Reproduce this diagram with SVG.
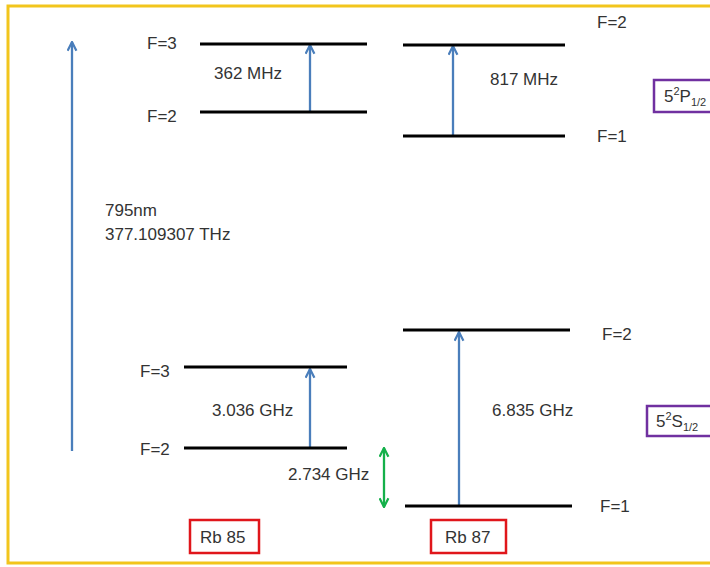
<svg xmlns="http://www.w3.org/2000/svg" width="710" height="567" viewBox="0 0 710 567">
<defs>
<marker id="ah" viewBox="0 0 10 10" refX="9" refY="5" markerWidth="11" markerHeight="11" markerUnits="userSpaceOnUse" orient="auto-start-reverse">
<path d="M1,1 L9,5 L1,9" fill="none" stroke="#4a7ebb" stroke-width="2"/>
</marker>
<marker id="gh" viewBox="0 0 10 10" refX="9" refY="5" markerWidth="11" markerHeight="11" markerUnits="userSpaceOnUse" orient="auto-start-reverse">
<path d="M1,1 L9,5 L1,9" fill="none" stroke="#14b04a" stroke-width="2"/>
</marker>
</defs>
<style>
text{font-family:"Liberation Sans",Arial,sans-serif;font-size:17px;fill:#333}
.lvl{stroke:#000;stroke-width:3}
.tr{stroke:#4a7ebb;stroke-width:2.3;fill:none;marker-end:url(#ah)}
.box{fill:#fff;stroke-width:2.5}
.s{font-size:11px}
</style>
<rect x="0" y="0" width="710" height="567" fill="#fff"/>
<rect x="8" y="6" width="720" height="557" fill="none" stroke="#f2c51c" stroke-width="3"/>

<g id="connectors">
<line class="tr" x1="72" y1="451" x2="72" y2="42"/>
<line class="tr" x1="310" y1="112" x2="310" y2="45"/>
<line class="tr" x1="453" y1="136" x2="453" y2="46"/>
<line class="tr" x1="310" y1="448" x2="310" y2="369"/>
<line class="tr" x1="459" y1="506" x2="459" y2="332"/>
<line x1="384" y1="448" x2="384" y2="507" stroke="#14b04a" stroke-width="2.3" marker-start="url(#gh)" marker-end="url(#gh)"/>
</g>

<g id="rb85-p-f3"><line class="lvl" x1="200" y1="44" x2="367" y2="44"/><text x="147" y="49">F=3</text></g>
<g id="rb85-p-f2"><line class="lvl" x1="200" y1="112" x2="367" y2="112"/><text x="147" y="122">F=2</text></g>
<g id="rb87-p-f2"><line class="lvl" x1="403" y1="45" x2="565" y2="45"/><text x="597" y="28">F=2</text></g>
<g id="rb87-p-f1"><line class="lvl" x1="403" y1="136" x2="565" y2="136"/><text x="597" y="142">F=1</text></g>
<g id="rb85-s-f3"><line class="lvl" x1="184" y1="367" x2="347" y2="367"/><text x="140" y="377">F=3</text></g>
<g id="rb85-s-f2"><line class="lvl" x1="184" y1="448" x2="347" y2="448"/><text x="140" y="455">F=2</text></g>
<g id="rb87-s-f2"><line class="lvl" x1="403" y1="330" x2="570" y2="330"/><text x="602" y="340">F=2</text></g>
<g id="rb87-s-f1"><line class="lvl" x1="405" y1="506" x2="572" y2="506"/><text x="600" y="512">F=1</text></g>

<g id="labels">
<text x="214" y="79">362 MHz</text>
<text x="490" y="85">817 MHz</text>
<text x="105" y="216">795nm</text>
<text x="105" y="240">377.109307 THz</text>
<text x="212" y="416">3.036 GHz</text>
<text x="288" y="480">2.734 GHz</text>
<text x="492" y="416">6.835 GHz</text>
</g>

<g id="p-state"><rect class="box" x="654" y="80" width="62" height="32" stroke="#7030a0"/><text x="664" y="102">5<tspan class="s" dy="-7">2</tspan><tspan dy="7">P</tspan><tspan class="s" dy="4">1/2</tspan></text></g>
<g id="s-state"><rect class="box" x="647" y="406" width="66" height="30" stroke="#7030a0"/><text x="656" y="427">5<tspan class="s" dy="-7">2</tspan><tspan dy="7">S</tspan><tspan class="s" dy="4">1/2</tspan></text></g>
<g id="rb85"><rect class="box" x="190" y="520" width="69" height="33" stroke="#e0161b"/><text x="200" y="543">Rb 85</text></g>
<g id="rb87"><rect class="box" x="431" y="520" width="75" height="33" stroke="#e0161b"/><text x="445" y="543">Rb 87</text></g>
</svg>
